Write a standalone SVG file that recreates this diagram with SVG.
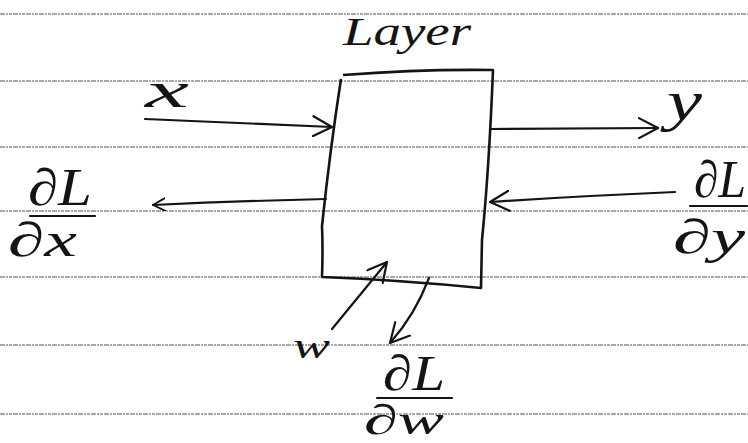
<svg xmlns="http://www.w3.org/2000/svg" width="748" height="443" viewBox="0 0 748 443">
  <defs>
    <style>
      .rule { stroke: #8c8c8c; stroke-width: 1.3; stroke-dasharray: 5 1 2 1 3 1; fill: none; }
      .ink { stroke: #141414; stroke-width: 2.2; fill: none; stroke-linecap: round; stroke-linejoin: round; }
      .box { stroke: #141414; stroke-width: 2.6; fill: none; stroke-linejoin: round; }
      .hand { font-family: "Liberation Serif", "DejaVu Serif", serif; font-style: italic; fill: #141414; }
    </style>
    <!-- open chevron arrowhead, hand-drawn style -->
    <marker id="head" viewBox="0 0 22 22" refX="20" refY="11" markerWidth="22" markerHeight="22" markerUnits="userSpaceOnUse" orient="auto">
      <path d="M1,1 L20,11 L1,21" fill="none" stroke="#141414" stroke-width="2.2" stroke-linecap="round" stroke-linejoin="round"/>
    </marker>
    <marker id="head-s" viewBox="0 0 22 22" refX="20" refY="11" markerWidth="14" markerHeight="14" markerUnits="userSpaceOnUse" orient="auto">
      <path d="M1,1 L20,11 L1,21" fill="none" stroke="#141414" stroke-width="3" stroke-linecap="round" stroke-linejoin="round"/>
    </marker>
  </defs>

  <rect width="748" height="443" fill="#ffffff"/>

  <!-- ruled paper -->
  <g id="paper">
    <line class="rule" x1="0" y1="14" x2="748" y2="14"/>
    <line class="rule" x1="0" y1="81" x2="748" y2="81"/>
    <line class="rule" x1="0" y1="147" x2="748" y2="147"/>
    <line class="rule" x1="0" y1="211" x2="748" y2="211"/>
    <line class="rule" x1="0" y1="277" x2="748" y2="277"/>
    <line class="rule" x1="0" y1="345" x2="748" y2="345"/>
    <line class="rule" x1="0" y1="414" x2="748" y2="414"/>
  </g>

  <!-- the layer block -->
  <g id="layer">
    <path class="box" d="M343,75 Q420,69 493,70 Q489,170 482,240 L481,288 Q400,280 322,277 Q323,250 322,226 Q330,150 341,79"/>
    <text class="hand" x="343" y="45" font-size="40" textLength="128" lengthAdjust="spacingAndGlyphs">Layer</text>
  </g>

  <!-- connectors -->
  <g id="connectors">
    <path class="ink" d="M145,119 Q240,123 332,127" marker-end="url(#head)"/>
    <path class="ink" d="M490,129 L658,128" marker-end="url(#head)"/>
    <path class="ink" d="M326,199 Q240,201 153,205" marker-end="url(#head-s)"/>
    <path class="ink" d="M675,192 Q580,196 490,202" marker-end="url(#head)"/>
    <path class="ink" d="M332,329 L387,262" marker-end="url(#head)"/>
    <path class="ink" d="M429,278 Q415,315 390,343" marker-end="url(#head)"/>
  </g>

  <!-- input x -->
  <g id="input-x">
    <text class="hand" x="145" y="107" font-size="50" textLength="44" lengthAdjust="spacingAndGlyphs">x</text>
  </g>

  <!-- output y -->
  <g id="output-y">
    <text class="hand" x="667" y="120" font-size="58" textLength="35" lengthAdjust="spacingAndGlyphs">y</text>
  </g>

  <!-- gradient with respect to x -->
  <g id="grad-x">
    <text class="hand" x="28" y="205" font-size="52" textLength="64" lengthAdjust="spacingAndGlyphs">∂L</text>
    <path class="ink" d="M30,216 L95,216"/>
    <text class="hand" x="8" y="256" font-size="48" textLength="69" lengthAdjust="spacingAndGlyphs">∂x</text>
  </g>

  <!-- gradient with respect to y -->
  <g id="grad-y">
    <text class="hand" x="694" y="197" font-size="52" textLength="52" lengthAdjust="spacingAndGlyphs">∂L</text>
    <path class="ink" d="M690,206 L747,206"/>
    <text class="hand" x="673" y="253" font-size="48" textLength="72" lengthAdjust="spacingAndGlyphs">∂y</text>
  </g>

  <!-- weights w -->
  <g id="weight-w">
    <text class="hand" x="293" y="358" font-size="36" textLength="37" lengthAdjust="spacingAndGlyphs">w</text>
  </g>

  <!-- gradient with respect to w -->
  <g id="grad-w">
    <text class="hand" x="383" y="390" font-size="50" textLength="62" lengthAdjust="spacingAndGlyphs">∂L</text>
    <path class="ink" d="M377,398 L452,398"/>
    <text class="hand" x="364" y="434" font-size="42" textLength="80" lengthAdjust="spacingAndGlyphs">∂w</text>
  </g>
</svg>
